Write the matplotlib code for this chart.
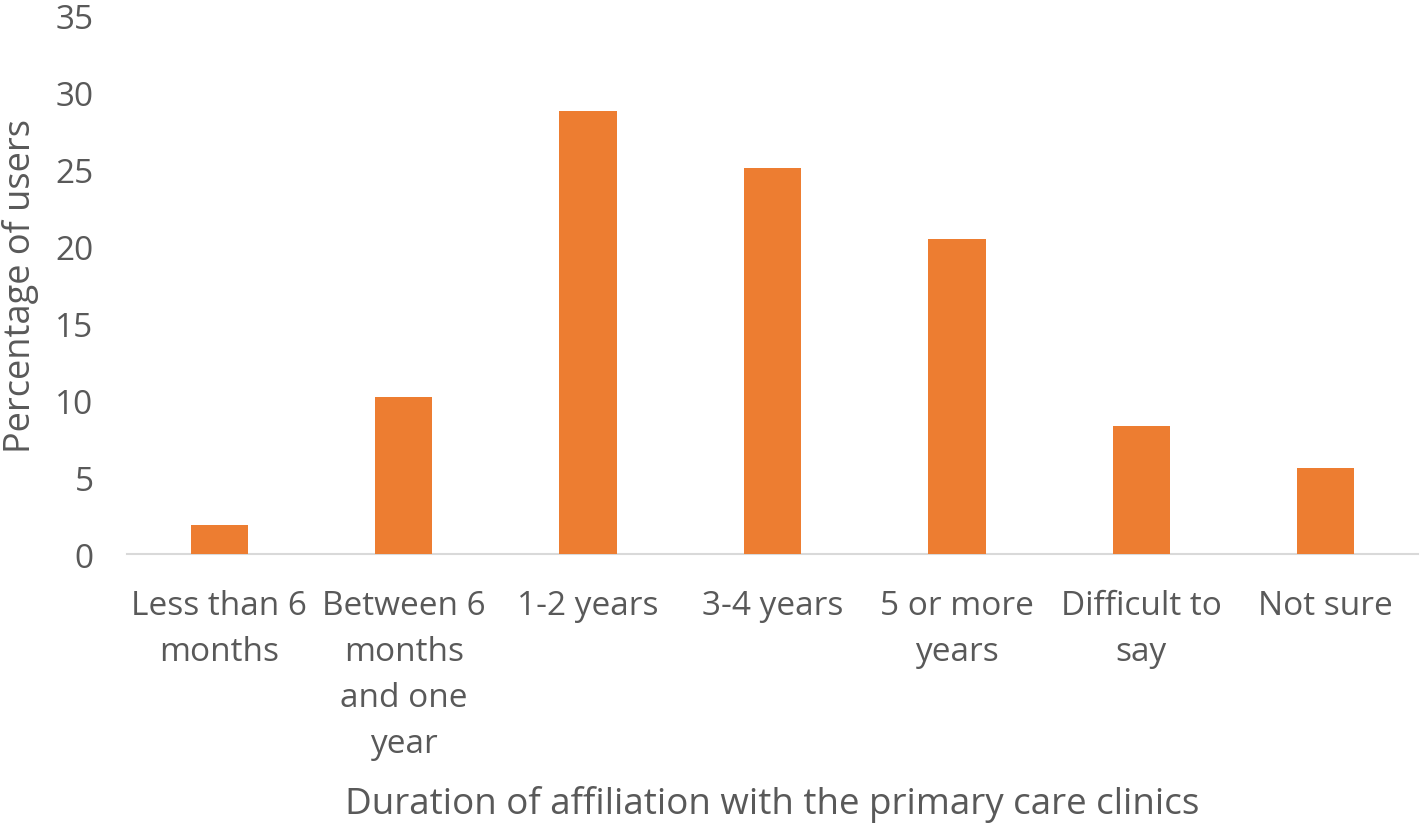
import matplotlib.pyplot as plt

categories = ['Less than 6\nmonths', 'Between 6\nmonths\nand one\nyear', '1-2 years',
              '3-4 years', '5 or more\nyears', 'Difficult to\nsay', 'Not sure']
percentages = [1.9, 10.2, 28.8, 25.1, 20.5, 8.3, 5.6]
y_ticks = [0, 5, 10, 15, 20, 25, 30, 35]

plt.rcParams['font.family'] = ['Open Sans', 'DejaVu Sans']
text_color = '#595959'

fig = plt.figure(figsize=(14.22, 8.28), dpi=100)
ax = fig.add_axes([0.0893, 0.3297, 0.9079, 0.6498])

x = range(len(categories))
ax.bar(x, percentages, width=0.31, color='#ED7D31', zorder=3)

ax.set_xlim(-0.5, len(categories) - 0.5)
ax.set_ylim(0, 35)
ax.set_yticks(y_ticks)
ax.set_xticks(list(x))
ax.set_xticklabels(categories, linespacing=1.53)

for side in ['top', 'right', 'left']:
    ax.spines[side].set_visible(False)
ax.spines['bottom'].set_color('#D9D9D9')
ax.spines['bottom'].set_linewidth(1.5)

ax.tick_params(axis='both', length=0, labelsize=24, colors=text_color)
ax.tick_params(axis='y', pad=24)
ax.tick_params(axis='x', pad=25)

ax.set_xlabel('Duration of affiliation with the primary care clinics',
              fontsize=26.5, color=text_color, labelpad=18)
ax.set_ylabel('Percentage of users', fontsize=26, color=text_color, labelpad=12)

fig.savefig('out.png', dpi=100)
